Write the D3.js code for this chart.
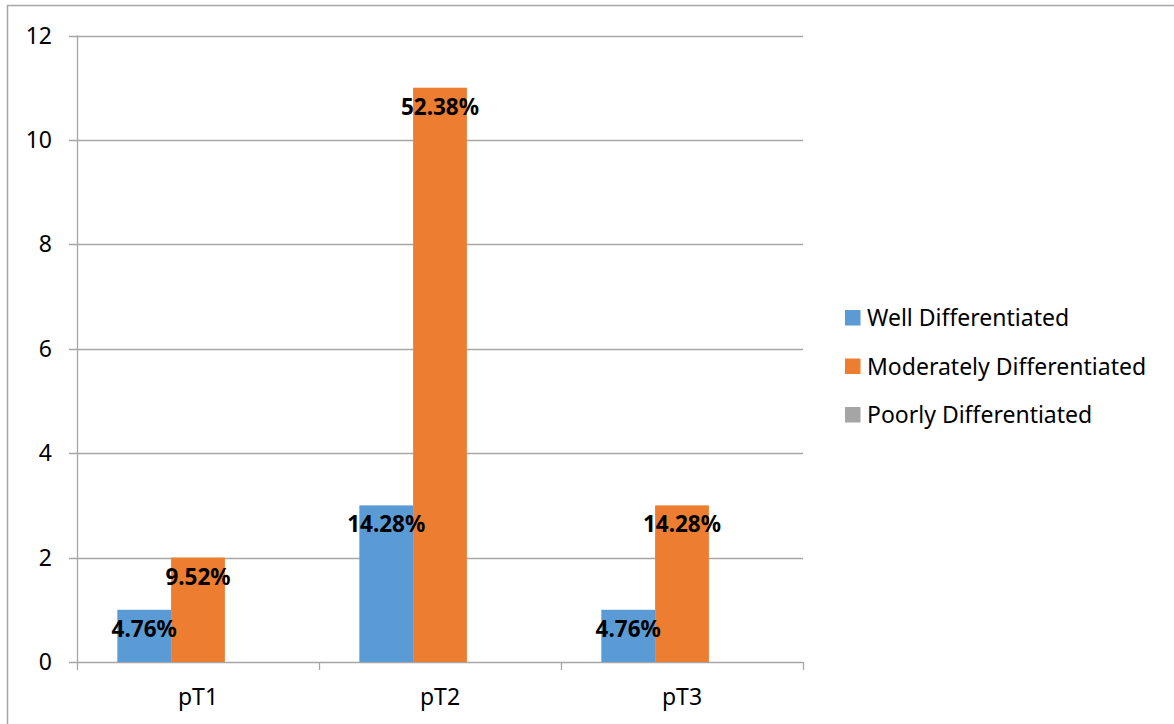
<!DOCTYPE html>
<html>
<head>
<meta charset="utf-8">
<script src="https://cdn.jsdelivr.net/npm/d3@7/dist/d3.min.js"></script>
<style>
  html, body { margin: 0; padding: 0; background: #fff; }
  svg { display: block; }
  text { font-family: "Noto Sans", "Open Sans", sans-serif; }
</style>
</head>
<body>
<svg id="chart" width="1174" height="724"></svg>
<script>
const categories = ["pT1", "pT2", "pT3"];
const seriesNames = ["Well Differentiated", "Moderately Differentiated", "Poorly Differentiated"];
const wellValues = [1, 3, 1];
const moderateValues = [2, 11, 3];
const poorValues = [0, 0, 0];
const wellLabels = ["4.76%", "14.28%", "4.76%"];
const moderateLabels = ["9.52%", "52.38%", "14.28%"];
const poorLabels = ["", "", ""];
const yTicks = [0, 2, 4, 6, 8, 10, 12];
const colors = ["#5B9BD5", "#ED7D31", "#A5A5A5"];

const seriesValues = [wellValues, moderateValues, poorValues];
const seriesLabels = [wellLabels, moderateLabels, poorLabels];

const svg = d3.select("#chart");
const margin = { left: 77, right: 803, top: 35.5, bottom: 662 };

// outer frame
svg.append("rect")
  .attr("x", 7.5).attr("y", 5.5)
  .attr("width", 1200).attr("height", 800)
  .attr("fill", "none").attr("stroke", "#A6A6A6").attr("stroke-width", 1.5);

const x = d3.scaleBand().domain(categories).range([margin.left, margin.right]).paddingInner(0).paddingOuter(0);
// Excel gap width 150%: band = 3 bars + 1.5 bar
const barW = x.bandwidth() / (seriesNames.length + 1.5);
const y = d3.scaleLinear().domain([0, 12]).range([margin.bottom, margin.top]);

// gridlines
svg.append("g").selectAll("line").data(yTicks).join("line")
  .attr("x1", margin.left - 8).attr("x2", margin.right)
  .attr("y1", d => Math.round(y(d)) + 0.5).attr("y2", d => Math.round(y(d)) + 0.5)
  .attr("stroke", "#A6A6A6").attr("stroke-width", 1.3);

// y axis line
svg.append("line")
  .attr("x1", margin.left + 0.5).attr("x2", margin.left + 0.5)
  .attr("y1", margin.top).attr("y2", margin.bottom)
  .attr("stroke", "#A6A6A6").attr("stroke-width", 1.3);

// x axis ticks
const xTickPos = categories.map(c => x(c)).concat([margin.right]);
svg.append("g").selectAll("line").data(xTickPos).join("line")
  .attr("x1", d => d + 0.5).attr("x2", d => d + 0.5)
  .attr("y1", margin.bottom).attr("y2", margin.bottom + 8)
  .attr("stroke", "#A6A6A6").attr("stroke-width", 1.3);

// y tick labels
svg.append("g").selectAll("text").data(yTicks).join("text")
  .attr("x", 52).attr("y", d => y(d) + 8)
  .attr("text-anchor", "end")
  .attr("font-size", 23).attr("fill", "#000")
  .text(d => d);

// x tick labels
svg.append("g").selectAll("text").data(categories).join("text")
  .attr("x", d => x(d) + x.bandwidth() / 2).attr("y", 705)
  .attr("text-anchor", "middle")
  .attr("font-size", 23).attr("fill", "#000")
  .text(d => d);

// bars
const groupOffset = (x.bandwidth() - barW * seriesNames.length) / 2;
seriesNames.forEach((name, si) => {
  const g = svg.append("g");
  g.selectAll("rect").data(categories).join("rect")
    .attr("x", c => x(c) + groupOffset + si * barW)
    .attr("width", barW)
    .attr("y", (c, i) => y(seriesValues[si][i]))
    .attr("height", (c, i) => y(0) - y(seriesValues[si][i]))
    .attr("fill", colors[si]);
});

// data labels
seriesNames.forEach((name, si) => {
  svg.append("g").selectAll("text").data(categories).join("text")
    .attr("x", c => x(c) + groupOffset + si * barW + barW / 2)
    .attr("y", (c, i) => y(seriesValues[si][i]) + 27)
    .attr("text-anchor", "middle")
    .attr("font-size", 22.5).attr("font-weight", "bold").attr("fill", "#000")
    .text((c, i) => seriesLabels[si][i]);
});

// legend
const legend = svg.append("g");
seriesNames.forEach((name, si) => {
  const cy = 318 + si * 48.5;
  legend.append("rect")
    .attr("x", 845).attr("y", cy - 8).attr("width", 15.5).attr("height", 15.5)
    .attr("fill", colors[si]);
  legend.append("text")
    .attr("x", 867).attr("y", cy + 8)
    .attr("font-size", 23).attr("fill", "#000")
    .text(name);
});
</script>
</body>
</html>
